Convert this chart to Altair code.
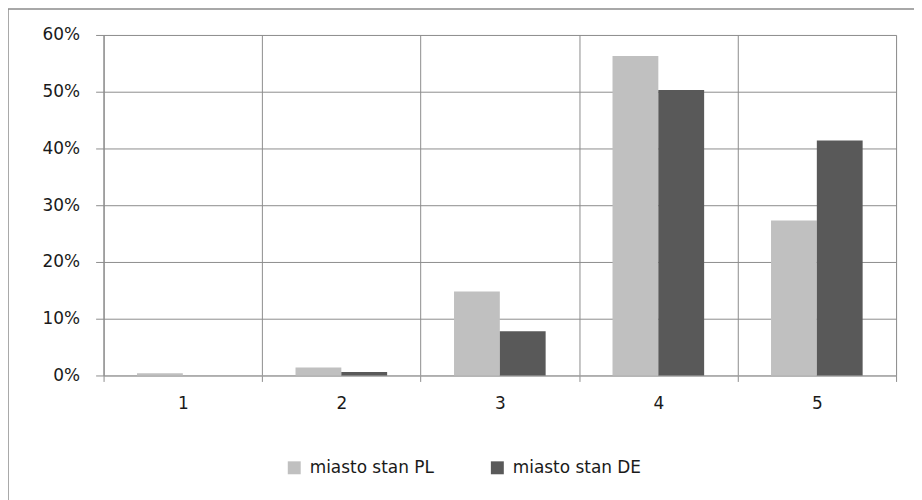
import altair as alt
import pandas as pd

categories = ["1", "2", "3", "4", "5"]
series_names = ["miasto stan PL", "miasto stan DE"]
pl_values = [0.004, 0.014, 0.148, 0.563, 0.273]
de_values = [0.000, 0.006, 0.078, 0.503, 0.414]
y_ticks = [0.0, 0.1, 0.2, 0.3, 0.4, 0.5, 0.6]
colors = ["#c0c0c0", "#595959"]

rows = []
for c, p, d in zip(categories, pl_values, de_values):
    rows.append({"cat": c, "series": series_names[0], "value": p})
    rows.append({"cat": c, "series": series_names[1], "value": d})
df = pd.DataFrame(rows)

FONT = "DejaVu Sans"

bars = alt.Chart(df).mark_bar(stroke=None).encode(
    x=alt.X("cat:N", sort=categories, title=None,
            scale=alt.Scale(paddingInner=0, paddingOuter=0),
            axis=alt.Axis(labelAngle=0, tickBand="extent", grid=True,
                          gridColor="#8c8c8c", gridWidth=1,
                          domainColor="#a6a6a6", tickColor="#8c8c8c",
                          tickSize=6, labelPadding=14, labelFontSize=17,
                          labelFont=FONT, labelColor="#1a1a1a")),
    xOffset=alt.XOffset("series:N", sort=series_names,
                        scale=alt.Scale(paddingInner=0, paddingOuter=0.73)),
    y=alt.Y("value:Q", title=None,
            scale=alt.Scale(domain=[0, 0.6], nice=False),
            axis=alt.Axis(values=y_ticks, format=".0%", grid=True,
                          gridColor="#8c8c8c", domainColor="#8c8c8c",
                          tickColor="#8c8c8c", tickSize=8, labelPadding=16,
                          labelFontSize=17, labelFont=FONT,
                          labelColor="#1a1a1a")),
    color=alt.Color("series:N", sort=series_names,
                    scale=alt.Scale(domain=series_names, range=colors),
                    legend=alt.Legend(title=None, orient="none",
                                      direction="horizontal",
                                      legendX=183, legendY=426,
                                      symbolType="square", symbolSize=169,
                                      symbolStrokeWidth=0,
                                      labelFontSize=17, labelFont=FONT,
                                      labelColor="#1a1a1a", labelOffset=7,
                                      columnPadding=55)),
)

frame = alt.Chart(pd.DataFrame({"a": [0]})).mark_rect(
    fill=None, stroke="#8c8c8c", strokeWidth=1.5
).encode(
    x=alt.value(-96), x2=alt.value(830),
    y=alt.value(-26), y2=alt.value(480),
)

chart = alt.layer(bars, frame).properties(
    width=796, height=342,
    autosize=alt.AutoSizeParams(type="none"),
    padding={"left": 96, "top": 26, "right": 18, "bottom": 124},
).configure_view(stroke="#8c8c8c", strokeWidth=1).configure(background="white")

chart.save("out.html", embed_options={"renderer": "svg", "actions": False})
